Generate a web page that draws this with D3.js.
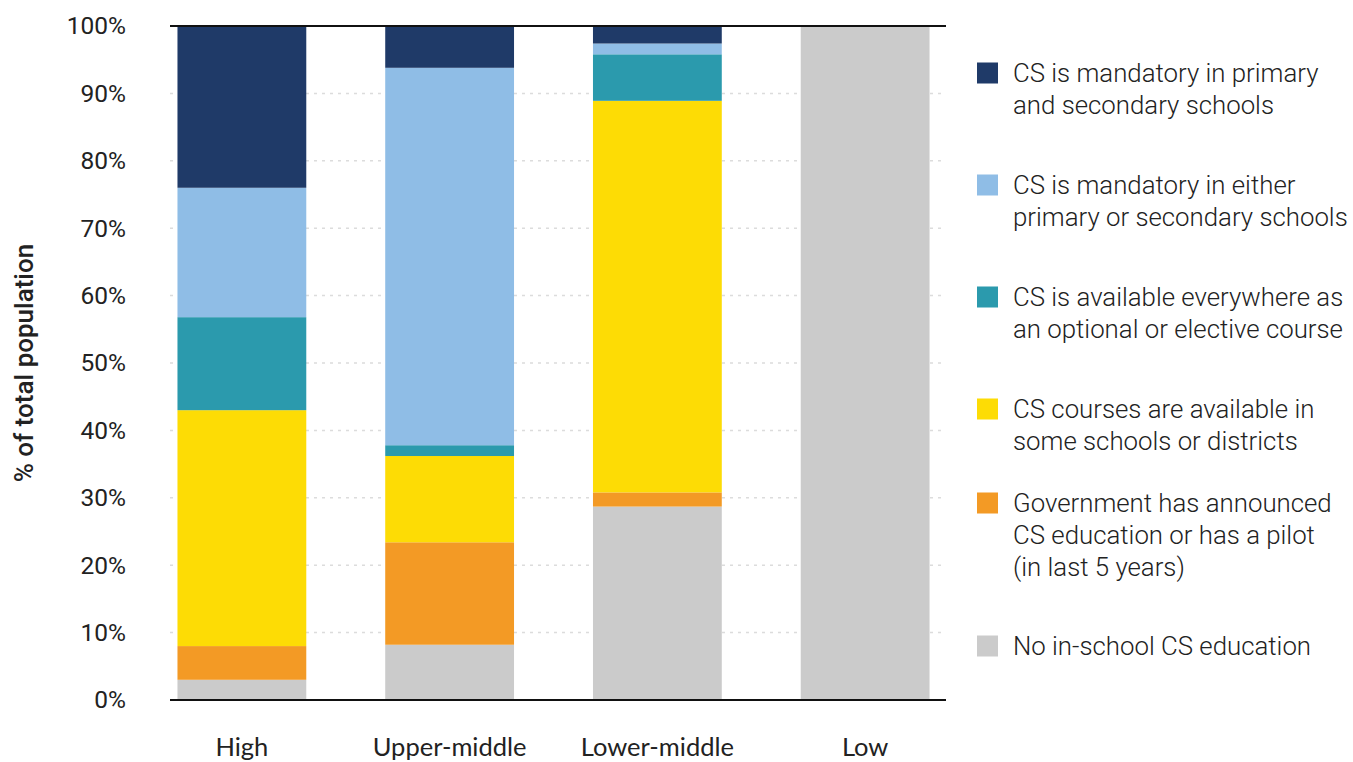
<!DOCTYPE html>
<html>
<head>
<meta charset="utf-8">
<script src="https://cdn.jsdelivr.net/npm/d3@7"></script>
<style>
  html, body { margin: 0; padding: 0; background: #fff; }
  svg { display: block; }
</style>
</head>
<body>
<svg id="chart" width="1353" height="762"></svg>
<script>
// ---- data ----
const categories = ["High", "Upper-middle", "Lower-middle", "Low"];
const seriesNames = [
  "No in-school CS education",
  "Government has announced CS education or has a pilot (in last 5 years)",
  "CS courses are available in some schools or districts",
  "CS is available everywhere as an optional or elective course",
  "CS is mandatory in either primary or secondary schools",
  "CS is mandatory in primary and secondary schools"
];
const noCS              = [3.0, 8.2, 28.7, 100];
const announcedPilot    = [5.0, 15.2, 2.1, 0];
const availableSome     = [35.0, 12.8, 58.1, 0];
const availableEvery    = [13.8, 1.6, 6.9, 0];
const mandatoryEither   = [19.2, 56.0, 1.6, 0];
const mandatoryBoth     = [24.0, 6.2, 2.6, 0];
const yTicks = [0, 10, 20, 30, 40, 50, 60, 70, 80, 90, 100];
const legendLines = [
  ["CS is mandatory in primary", "and secondary schools"],
  ["CS is mandatory in either", "primary or secondary schools"],
  ["CS is available everywhere as", "an optional or elective course"],
  ["CS courses are available in", "some schools or districts"],
  ["Government has announced", "CS education or has a pilot", "(in last 5 years)"],
  ["No in-school CS education"]
];
const colors = ["#cbcbcb", "#f39a25", "#fddc05", "#2b9aad", "#8fbde6", "#1f3a68"];

// ---- build table ----
const seriesValues = [noCS, announcedPilot, availableSome, availableEvery, mandatoryEither, mandatoryBoth];
const keys = seriesNames;
const rows = categories.map((c, i) => {
  const r = { cat: c };
  keys.forEach((k, j) => r[k] = seriesValues[j][i]);
  return r;
});
const stacked = d3.stack().keys(keys)(rows);

const svg = d3.select("#chart");

const x = d3.scaleBand().domain(categories).range([138, 969]).paddingInner(0.38).paddingOuter(0.19);
const y = d3.scaleLinear().domain([0, 100]).range([700, 26]);

// gridlines
svg.append("g")
  .selectAll("line")
  .data(yTicks.filter(t => t > 0 && t < 100))
  .join("line")
  .attr("x1", 170).attr("x2", 946)
  .attr("y1", d => y(d)).attr("y2", d => y(d))
  .attr("stroke", "#dcdcdc")
  .attr("stroke-width", 1.5)
  .attr("stroke-dasharray", "3,5");

// bars
svg.append("g")
  .selectAll("g")
  .data(stacked)
  .join("g")
  .attr("fill", (d, i) => colors[i])
  .selectAll("rect")
  .data(d => d)
  .join("rect")
  .attr("x", d => x(d.data.cat))
  .attr("width", x.bandwidth())
  .attr("y", d => y(d[1]))
  .attr("height", d => y(d[0]) - y(d[1]));

// axis lines top and bottom
[0, 100].forEach(v => {
  svg.append("line")
    .attr("x1", 170).attr("x2", 946)
    .attr("y1", y(v)).attr("y2", y(v))
    .attr("stroke", "#111").attr("stroke-width", 2);
});

// y axis labels
const yAxis = d3.axisLeft(y).tickValues(yTicks).tickFormat(d => d + "%").tickSize(0).tickPadding(0);
const gy = svg.append("g").attr("transform", "translate(126,0)").call(yAxis);
gy.select(".domain").remove();
gy.selectAll("text")
  .attr("font-family", "Roboto, sans-serif")
  .attr("font-size", 24.5)
  .attr("fill", "#222");

// x axis labels
const xAxis = d3.axisBottom(x).tickSize(0).tickPadding(0);
const gx = svg.append("g").attr("transform", "translate(0,738)").call(xAxis);
gx.select(".domain").remove();
gx.selectAll("text")
  .attr("font-family", "Lato, sans-serif")
  .attr("font-size", 25.5)
  .attr("fill", "#222");

// y title
svg.append("text")
  .attr("transform", "translate(33,363) rotate(-90)")
  .attr("text-anchor", "middle")
  .attr("font-family", "Roboto, sans-serif")
  .attr("font-weight", 500)
  .attr("font-size", 26)
  .attr("fill", "#222")
  .text("% of total population");

// legend (top-to-bottom order)
const legendOrder = [5, 4, 3, 2, 1, 0];
const legendY = [73, 185, 297, 409, 503, 646];
const lineH = 32;
const lg = svg.append("g");
legendOrder.forEach((si, i) => {
  const g = lg.append("g").attr("transform", `translate(977,${legendY[i]})`);
  g.append("rect").attr("x", 0).attr("y", -10.5).attr("width", 21).attr("height", 21).attr("fill", colors[si]);
  const t = g.append("text")
    .attr("font-family", "Roboto, sans-serif")
    .attr("font-weight", 300)
    .attr("font-size", 25.8)
    .attr("fill", "#222");
  legendLines[i].forEach((ln, k) => {
    t.append("tspan").attr("x", 36).attr("y", k * lineH).attr("dy", "0.35em").text(ln);
  });
});
</script>
</body>
</html>
